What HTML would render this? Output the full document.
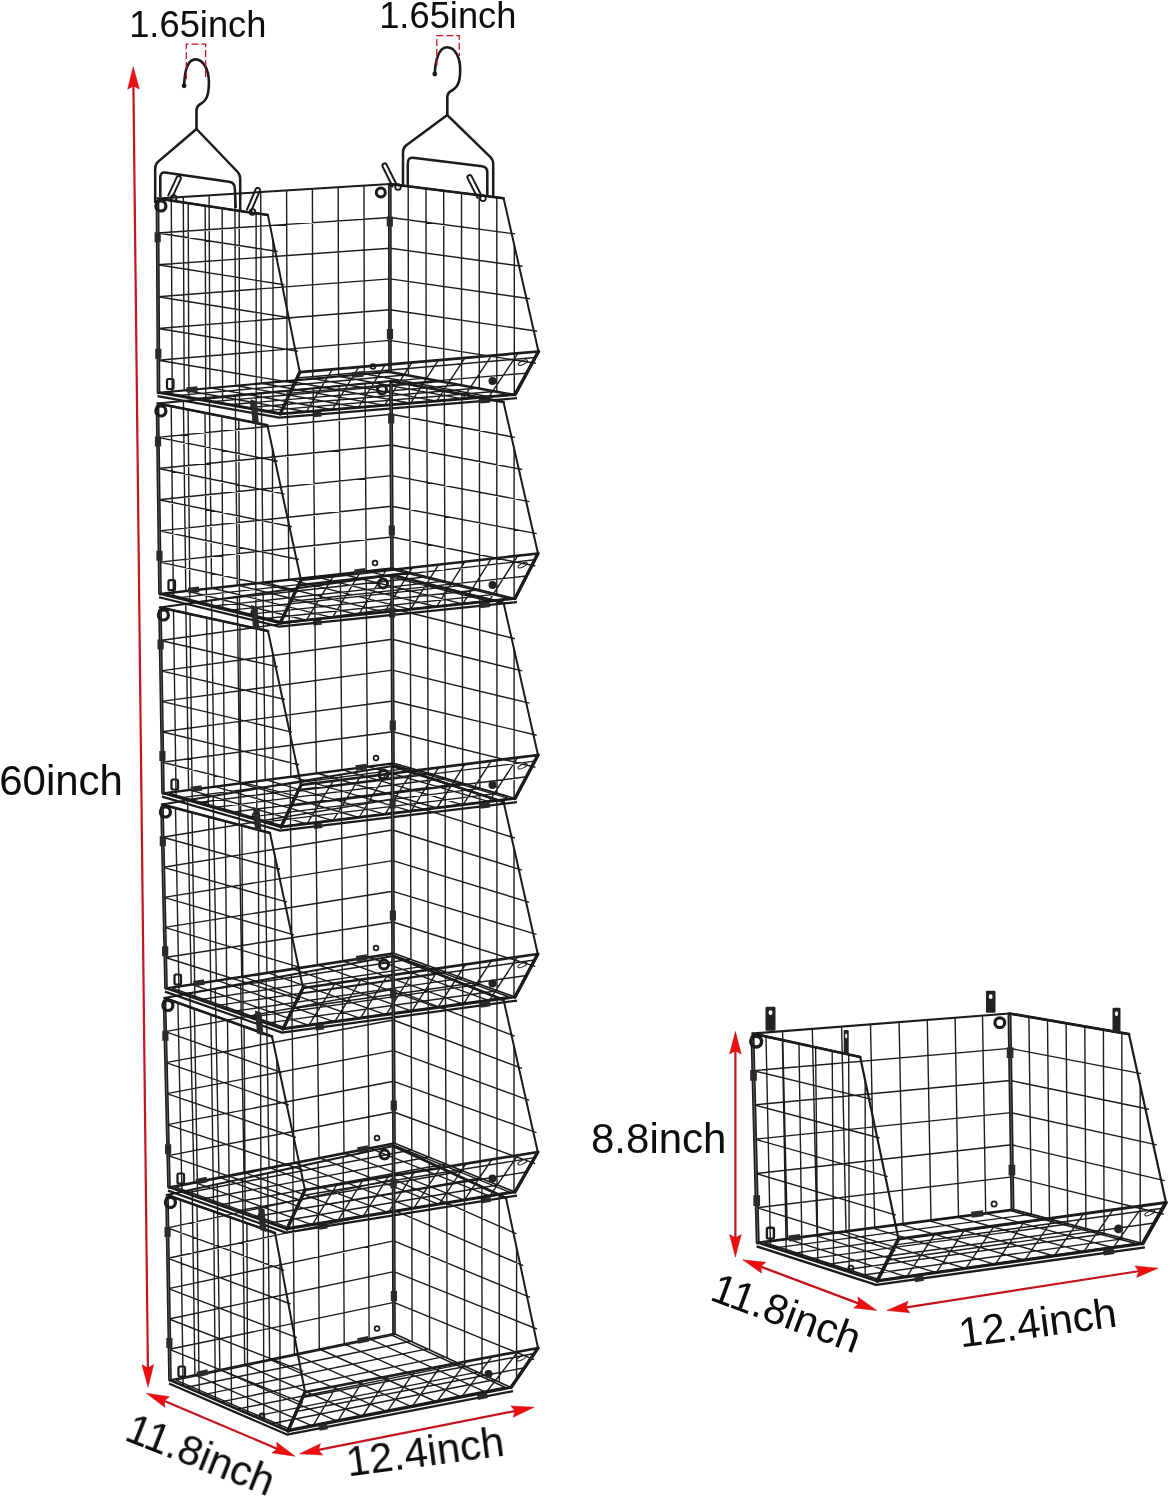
<!DOCTYPE html>
<html lang="en">
<head>
<meta charset="utf-8">
<title>Hanging wire basket dimensions</title>
<style>
html,body{margin:0;padding:0;background:#fff;}
body{width:1170px;height:1500px;overflow:hidden;font-family:'Liberation Sans',sans-serif;}
svg{display:block;}
</style>
</head>
<body>
<svg width="1170" height="1500" viewBox="0 0 1170 1500">
<defs><filter id="soft" filterUnits="userSpaceOnUse" x="0" y="0" width="1170" height="1500"><feGaussianBlur stdDeviation="0.38"/></filter></defs>
<rect width="1170" height="1500" fill="#fff"/>
<g filter="url(#soft)">
<g id="stack" stroke-linecap="butt">
<path d="M183.3 196.9L184.2 390.2M209.1 195.3L209.9 387.8M234.9 193.7L235.7 385.5M260.7 192.1L261.4 383.2M286.6 190.5L287.1 380.8M312.4 188.9L312.8 378.5M338.2 187.3L338.6 376.2M364 185.7L364.3 373.8M157.7 233L389.8 217.5M157.8 264.8L389.9 248.2M158 296.7L389.9 278.9M158.2 328.5L389.9 309.7M158.3 360.3L390 340.4M171.3 200.6L172.2 394.9M188.2 203.1L188.9 397.9M205.2 205.7L205.8 400.8M222.2 208.2L222.6 403.8M239.2 210.8L239.5 406.8M256.1 213.3L256.2 409.8M273 240.1L273 412.7M157.7 233L277.7 251.5M157.8 264.8L284.4 284.8M158 296.7L291.2 318M158.2 328.5L297.9 351.2M158.3 360.3L297.1 383.5M408.2 186.4L408.4 374.9M426 188.6L426.1 378.2M443.7 190.8L443.8 381.5M461.5 193L461.6 384.7M479.2 195.2L479.3 388M496.8 197.4L496.8 391.2M514.3 245.2L514.3 394.5M389.8 217.5L515.1 233.9M389.9 248.2L522.5 266.3M389.9 278.9L529.9 298.8M389.9 309.7L537.2 331.2M390 340.4L535.8 363.3M184.2 390.2L306.3 411.8M209.9 387.8L332.4 409.7M235.7 385.5L358.5 407.5M261.4 383.2L384.6 405.4M287.1 380.8L410.6 403.2M312.8 378.5L436.7 401.1M338.6 376.2L462.8 398.9M364.3 373.8L488.9 396.8M175.9 395.6L407.9 374.8M193.3 398.6L425.7 378.1M210.7 401.7L443.6 381.4M228 404.8L461.4 384.7M245.4 407.9L479.3 388M262.8 410.9L497.1 391.3M306.3 411.8L332.3 369.3M332.4 409.7L358.8 367M358.5 407.5L385.3 364.7M384.6 405.4L411.9 362.4M410.6 403.2L438.4 360.1M436.7 401.1L464.9 357.9M462.8 398.9L491.4 355.6M488.9 396.8L517.9 353.3M297.1 378L535.2 357.5M290 393.1L526.8 373.1" stroke="#1c1c1c" stroke-width="1.4" fill="none"/>
<path d="M157.5 198.5L389.8 184.1M157.5 198.5L267.9 215.1L299.8 372.1M389.8 184.1L503.6 198.2L538.5 351.5" stroke="#1a1a1a" stroke-width="2" fill="none" stroke-linejoin="round"/>
<path d="M157.5 198.5L267.9 215.1M389.8 184.1L503.6 198.2" stroke="#1a1a1a" stroke-width="2.5" fill="none" stroke-linecap="round"/>
<path d="M157.5 201.5L158.5 392.5M389.8 186.1L390 371.5" stroke="#1a1a1a" stroke-width="3.7" fill="none" stroke-linecap="round"/>
<path d="M157.5 201.5L158.5 392.5M389.8 186.1L390 371.5" stroke="#777" stroke-width="0.7" fill="none"/>
<path d="M158.5 392.5L280.2 414L515 394.6" stroke="#1a1a1a" stroke-width="2.6" fill="none" stroke-linejoin="round"/>
<path d="M158.5 392.5L390 371.5L515 394.6" stroke="#1a1a1a" stroke-width="1.7" fill="none" stroke-linejoin="round"/>
<path d="M164.7 392.5L388.1 372.3L508.7 394.5L282.2 413.3Z" stroke="#1a1a1a" stroke-width="1.5" fill="none"/>
<path d="M157.5 396.1L279.2 417.6L517 398.2" stroke="#1a1a1a" stroke-width="2.2" fill="none" stroke-linejoin="round"/>
<path d="M280.2 414L299.8 372.1L538.5 351.5L515 394.6" stroke="#1a1a1a" stroke-width="2.7" fill="none" stroke-linejoin="round" stroke-linecap="round"/>
<path d="M280.2 414L299.8 372.1M515 394.6L538.5 351.5" stroke="#1a1a1a" stroke-width="3.3" fill="none" stroke-linecap="round"/>
<path d="M157.7 232.3L157.7 242.3M158.3 348.7L158.3 358.7M389.8 216.6L389.8 226.6M390 329L390 339" stroke="#2a2a2a" stroke-width="6.2" fill="none"/>
<circle cx="380.8" cy="192.6" r="4.5" stroke="#1a1a1a" stroke-width="3" fill="none"/>
<circle cx="160.9" cy="206" r="5" stroke="#1a1a1a" stroke-width="3.2" fill="none"/>
<circle cx="373" cy="366.5" r="2.4" stroke="#1a1a1a" stroke-width="1.7" fill="none"/>
<circle cx="253.4" cy="405.3" r="2.4" stroke="#1a1a1a" stroke-width="1.7" fill="none"/>
<rect x="167" y="379" width="6.5" height="10" rx="1.5" stroke="#1a1a1a" stroke-width="2.2" fill="none"/>
<circle cx="492.5" cy="381.1" r="4" fill="#222"/>
<path d="M186.6 390L197.5 389M352.6 374.9L363.5 373.9M313.1 414.5L321.5 413.8M480 400.7L489.9 399.9" stroke="#2b2b2b" stroke-width="5.6" fill="none"/>
<ellipse cx="522.9" cy="362.6" rx="5" ry="1.8" stroke="#1a1a1a" stroke-width="1" fill="none" transform="rotate(-25 522.9 362.6)"/>
<path d="M183.4 401L185.8 590.8M209.4 398.5L211.6 588M235.3 396L237.3 585.1M261.3 393.5L263.1 582.3M287.2 391L288.9 579.4M313.2 388.5L314.7 576.6M339.1 386L340.4 573.7M365.1 383.5L366.2 570.9M157.9 437.4L391.2 414.3M158.4 468.5L391.3 445M158.8 499.7L391.5 475.6M159.2 530.9L391.7 506.3M159.6 562.1L391.8 537M171.2 406.2L173.4 597M188.1 409.6L189.9 601M205 412.9L206.4 605M221.9 416.3L222.9 609M238.8 419.6L239.5 613.1M255.6 423L255.9 617.1M272.5 448.6L272.5 621.1M157.9 437.4L277.6 461.3M158.4 468.5L284.7 494.1M158.8 499.7L291.8 526.8M159.2 530.9L298.9 559.5M159.6 562.1L298 591.8M409.2 384.4L410.1 572.5M426.8 387.7L427.5 576.8M444.3 391L444.9 581.1M461.9 394.2L462.2 585.4M479.4 397.5L479.6 589.7M496.8 400.7L496.8 594M514.1 448.4L514.1 598.3M391.2 414.3L514.9 437.4M391.3 445L522.2 469.5M391.5 475.6L529.5 501.6M391.7 506.3L536.8 533.6M391.8 537L535.4 566M185.8 590.8L306.3 620.3M211.6 588L332.4 617.6M237.3 585.1L358.5 614.8M263.1 582.3L384.6 612.1M288.9 579.4L410.6 609.4M314.7 576.6L436.7 606.7M340.4 573.7L462.8 603.9M366.2 570.9L488.9 601.2M177.2 597.9L409.6 572.4M194.3 602.1L427.1 576.7M211.5 606.3L444.7 581.1M228.7 610.4L462.3 585.4M245.9 614.6L479.9 589.8M263 618.8L497.4 594.1M306.3 620.3L333.3 576.4M332.4 617.6L359.6 573.4M358.5 614.8L385.9 570.5M384.6 612.1L412.3 567.6M410.6 609.4L438.6 564.6M436.7 606.7L464.9 561.7M462.8 603.9L491.3 558.7M488.9 601.2L517.6 555.8M298.1 586L534.8 559.8M290.6 601.5L526.5 576" stroke="#1c1c1c" stroke-width="1.4" fill="none"/>
<path d="M157.5 403.5L391 381M157.5 403.5L267.4 425.3L301 580M391 381L503.5 402L538 553.5" stroke="#1a1a1a" stroke-width="2" fill="none" stroke-linejoin="round"/>
<path d="M157.5 403.5L267.4 425.3M391 381L503.5 402" stroke="#1a1a1a" stroke-width="2.5" fill="none" stroke-linecap="round"/>
<path d="M157.5 406.5L160 593.7M391 383L392 568" stroke="#1a1a1a" stroke-width="3.7" fill="none" stroke-linecap="round"/>
<path d="M157.5 406.5L160 593.7M391 383L392 568" stroke="#777" stroke-width="0.7" fill="none"/>
<path d="M160 593.7L280.2 623L515 598.5" stroke="#1a1a1a" stroke-width="2.6" fill="none" stroke-linejoin="round"/>
<path d="M160 593.7L392 568L515 598.5" stroke="#1a1a1a" stroke-width="1.7" fill="none" stroke-linejoin="round"/>
<path d="M166.2 593.8L390.1 569L508.8 598.4L282.2 622Z" stroke="#1a1a1a" stroke-width="1.5" fill="none"/>
<path d="M159 597.3L279.2 626.6L517 602.1" stroke="#1a1a1a" stroke-width="2.2" fill="none" stroke-linejoin="round"/>
<path d="M280.2 623L301 580L538 553.5L515 598.5" stroke="#1a1a1a" stroke-width="2.7" fill="none" stroke-linejoin="round" stroke-linecap="round"/>
<path d="M280.2 623L301 580M515 598.5L538 553.5" stroke="#1a1a1a" stroke-width="3.3" fill="none" stroke-linecap="round"/>
<path d="M158 436.5L158 446.5M159.5 550.7L159.5 560.7M391.2 413.4L391.2 423.4M391.8 525.6L391.8 535.6" stroke="#2a2a2a" stroke-width="6.2" fill="none"/>
<circle cx="382" cy="389.5" r="4.5" stroke="#1a1a1a" stroke-width="3" fill="none"/>
<circle cx="160.9" cy="411" r="5" stroke="#1a1a1a" stroke-width="3.2" fill="none"/>
<circle cx="375" cy="563" r="2.4" stroke="#1a1a1a" stroke-width="1.7" fill="none"/>
<circle cx="253.8" cy="612.6" r="2.4" stroke="#1a1a1a" stroke-width="1.7" fill="none"/>
<rect x="168.5" y="580.2" width="6.5" height="10" rx="1.5" stroke="#1a1a1a" stroke-width="2.2" fill="none"/>
<circle cx="492.5" cy="585" r="4" fill="#222"/>
<path d="M188.2 590.6L199.1 589.4M354.5 572.2L365.5 570.9M313.1 622.8L321.5 621.9M480 605.4L489.9 604.3" stroke="#2b2b2b" stroke-width="5.6" fill="none"/>
<path d="M250.4 399.3L256.9 401.3L258.9 424.3L252.4 422.3Z" fill="#2a2a2a"/>
<ellipse cx="522.6" cy="565.1" rx="5" ry="1.8" stroke="#1a1a1a" stroke-width="1" fill="none" transform="rotate(-25 522.6 565.1)"/>
<path d="M185.8 603.9L188.6 789.7M211.6 600.3L214.1 786.3M237.3 596.7L239.7 783M263.1 593.1L265.2 779.7M288.9 589.4L290.8 776.3M314.7 585.8L316.3 773M340.4 582.2L341.9 769.7M366.2 578.6L367.4 766.3M160.5 640.5L392.2 608.5M161 670.9L392.3 639.3M161.5 701.4L392.5 670.1M162 731.8L392.7 701M162.5 762.2L392.8 731.8M173.5 610.4L176.1 796.8M190 614L192.2 801.4M206.7 617.7L208.4 806.1M223.3 621.3L224.5 810.7M239.9 624.9L240.7 815.4M256.4 628.5L256.8 820M273 654.2L273 824.7M160.5 640.5L278 666.9M161 670.9L285 699.5M161.5 701.4L292 732.1M162 731.8L299 764.7M162.5 762.2L298.2 796.6M410.1 579.5L410.9 768.2M427.5 583.9L428.2 773.2M444.9 588.3L445.4 778.3M462.3 592.6L462.7 783.3M479.7 597L479.9 788.3M496.9 601.3L497 793.3M514.1 649.4L514.1 798.2M392.2 608.5L514.9 638.7M392.3 639.3L522.2 670.9M392.5 670.1L529.5 703.1M392.7 701L536.7 735.2M392.8 731.8L535.4 767.3M188.6 789.7L307 823.8M214.1 786.3L333 820.7M239.7 783L359 817.5M265.2 779.7L385 814.3M290.8 776.3L411 811.2M316.3 773L437 808M341.9 769.7L463 804.8M367.4 766.3L489 801.7M179.9 797.9L410.4 768.1M196.7 802.7L427.9 773.1M213.6 807.6L445.3 778.2M230.4 812.4L462.7 783.3M247.3 817.3L480.1 788.4M264.1 822.1L497.6 793.4M307 823.8L333.3 780.9M333 820.7L359.6 777.6M359 817.5L385.9 774.2M385 814.3L412.3 770.9M411 811.2L438.6 767.6M437 808L464.9 764.2M463 804.8L491.3 760.9M489 801.7L517.6 757.6M298.2 790.9L534.8 761.1M291 806L526.5 776.8" stroke="#1c1c1c" stroke-width="1.4" fill="none"/>
<path d="M160 607.5L392 575M160 607.5L268 631L301 785M392 575L503.6 603L538 755" stroke="#1a1a1a" stroke-width="2" fill="none" stroke-linejoin="round"/>
<path d="M160 607.5L268 631M392 575L503.6 603" stroke="#1a1a1a" stroke-width="2.5" fill="none" stroke-linecap="round"/>
<path d="M160 610.5L163 793M392 577L393 763" stroke="#1a1a1a" stroke-width="3.7" fill="none" stroke-linecap="round"/>
<path d="M160 610.5L163 793M392 577L393 763" stroke="#777" stroke-width="0.7" fill="none"/>
<path d="M163 793L281 827L515 798.5" stroke="#1a1a1a" stroke-width="2.6" fill="none" stroke-linejoin="round"/>
<path d="M163 793L393 763L515 798.5" stroke="#1a1a1a" stroke-width="1.7" fill="none" stroke-linejoin="round"/>
<path d="M169.1 793.1L391.1 764.1L508.8 798.4L283 825.9Z" stroke="#1a1a1a" stroke-width="1.5" fill="none"/>
<path d="M162 796.6L280 830.6L517 802.1" stroke="#1a1a1a" stroke-width="2.2" fill="none" stroke-linejoin="round"/>
<path d="M281 827L301 785L538 755L515 798.5" stroke="#1a1a1a" stroke-width="2.7" fill="none" stroke-linejoin="round" stroke-linecap="round"/>
<path d="M281 827L301 785M515 798.5L538 755" stroke="#1a1a1a" stroke-width="3.3" fill="none" stroke-linecap="round"/>
<path d="M160.6 639.6L160.6 649.6M162.4 750.9L162.4 760.9M392.2 607.6L392.2 617.6M392.8 720.4L392.8 730.4" stroke="#2a2a2a" stroke-width="6.2" fill="none"/>
<circle cx="383" cy="583.5" r="4.5" stroke="#1a1a1a" stroke-width="3" fill="none"/>
<circle cx="163.4" cy="615" r="5" stroke="#1a1a1a" stroke-width="3.2" fill="none"/>
<circle cx="376" cy="758" r="2.4" stroke="#1a1a1a" stroke-width="1.7" fill="none"/>
<circle cx="255" cy="815.5" r="2.4" stroke="#1a1a1a" stroke-width="1.7" fill="none"/>
<rect x="171.5" y="779.5" width="6.5" height="10" rx="1.5" stroke="#1a1a1a" stroke-width="2.2" fill="none"/>
<circle cx="492.5" cy="785" r="4" fill="#222"/>
<path d="M190.9 789.4L201.8 787.9M355.8 767.9L366.7 766.4M313.8 826.2L322.1 825.2M480.1 806L490 804.7" stroke="#2b2b2b" stroke-width="5.6" fill="none"/>
<path d="M251 605L257.5 607L259.5 630L253 628Z" fill="#2a2a2a"/>
<ellipse cx="522.6" cy="766.2" rx="5" ry="1.8" stroke="#1a1a1a" stroke-width="1" fill="none" transform="rotate(-25 522.6 766.2)"/>
<path d="M187.6 800.2L191.2 984.1M213.2 795.9L216.4 980.2M238.8 791.7L241.7 976.3M264.4 787.4L266.9 972.4M290.1 783.1L292.1 968.6M315.7 778.8L317.3 964.7M341.3 774.6L342.6 960.8M366.9 770.3L367.8 956.9M162.7 837.2L392.6 799.3M163.4 867.3L392.7 830M164 897.4L392.8 860.6M164.7 927.4L392.8 891.3M165.3 957.5L392.9 922M175.5 808.1L179 992.6M192 812.4L194.9 998.1M208.7 816.8L210.9 1003.7M225.3 821.2L226.9 1009.4M241.9 825.6L243 1015M258.4 830L258.9 1020.5M275 856.3L275 1026.2M162.7 837.2L280 869.3M163.4 867.3L287 902.1M164 897.4L293.9 934.9M164.7 927.4L300.9 967.7M165.3 957.5L300.1 999.5M410.5 771.8L410.9 959.5M427.8 777.4L428.2 965.7M445.2 783.1L445.4 971.9M462.5 788.7L462.7 978.1M479.8 794.3L479.9 984.4M496.9 799.8L497 990.5M514 848.4L514 996.7M392.6 799.3L514.8 838M392.7 830L522 870.1M392.8 860.6L529.3 902.3M392.8 891.3L536.5 934.4M392.9 922L535.2 966.3M191.2 984.1L308.8 1025.4M216.4 980.2L334.6 1021.9M241.7 976.3L360.3 1018.3M266.9 972.4L386.1 1014.8M292.1 968.6L411.9 1011.2M317.3 964.7L437.7 1007.7M342.6 960.8L463.4 1004.1M367.8 956.9L489.2 1000.6M182.7 993.9L410.4 959.3M199.4 999.7L427.9 965.6M216.1 1005.6L445.3 971.9M232.9 1011.4L462.7 978.1M249.6 1017.3L480.1 984.4M266.3 1023.1L497.6 990.7M308.8 1025.4L335 983.4M334.6 1021.9L361 979.6M360.3 1018.3L387.1 975.8M386.1 1014.8L413.2 972M411.9 1011.2L439.3 968.3M437.7 1007.7L465.4 964.5M463.4 1004.1L491.5 960.7M489.2 1000.6L517.6 956.9M300.2 993.7L534.6 960M293 1008.5L526.4 975.5" stroke="#1c1c1c" stroke-width="1.4" fill="none"/>
<path d="M162 804.5L392.5 766M162 804.5L270 833L303 988M392.5 766L503.6 802L537.8 954" stroke="#1a1a1a" stroke-width="2" fill="none" stroke-linejoin="round"/>
<path d="M162 804.5L270 833M392.5 766L503.6 802" stroke="#1a1a1a" stroke-width="2.5" fill="none" stroke-linecap="round"/>
<path d="M162 807.5L166 988M392.5 768L393 953" stroke="#1a1a1a" stroke-width="3.7" fill="none" stroke-linecap="round"/>
<path d="M162 807.5L166 988M392.5 768L393 953" stroke="#777" stroke-width="0.7" fill="none"/>
<path d="M166 988L283 1029L515 997" stroke="#1a1a1a" stroke-width="2.6" fill="none" stroke-linejoin="round"/>
<path d="M166 988L393 953L515 997" stroke="#1a1a1a" stroke-width="1.7" fill="none" stroke-linejoin="round"/>
<path d="M172.1 988.1L391.1 954.4L508.8 996.8L285 1027.7Z" stroke="#1a1a1a" stroke-width="1.5" fill="none"/>
<path d="M165 991.6L282 1032.6L517 1000.6" stroke="#1a1a1a" stroke-width="2.2" fill="none" stroke-linejoin="round"/>
<path d="M283 1029L303 988L537.8 954L515 997" stroke="#1a1a1a" stroke-width="2.7" fill="none" stroke-linejoin="round" stroke-linecap="round"/>
<path d="M283 1029L303 988M515 997L537.8 954" stroke="#1a1a1a" stroke-width="3.3" fill="none" stroke-linecap="round"/>
<path d="M162.8 836.2L162.8 846.2M165.2 946.3L165.2 956.3M392.6 798.4L392.6 808.4M392.9 910.6L392.9 920.6" stroke="#2a2a2a" stroke-width="6.2" fill="none"/>
<circle cx="383.5" cy="774.5" r="4.5" stroke="#1a1a1a" stroke-width="3" fill="none"/>
<circle cx="165.4" cy="812" r="5" stroke="#1a1a1a" stroke-width="3.2" fill="none"/>
<circle cx="376" cy="948" r="2.4" stroke="#1a1a1a" stroke-width="1.7" fill="none"/>
<circle cx="257.3" cy="1016" r="2.4" stroke="#1a1a1a" stroke-width="1.7" fill="none"/>
<rect x="174.5" y="974.5" width="6.5" height="10" rx="1.5" stroke="#1a1a1a" stroke-width="2.2" fill="none"/>
<circle cx="492.5" cy="983.5" r="4" fill="#222"/>
<path d="M193.5 983.8L204.4 982.1M356.2 958.7L367.1 957M315.5 1027.7L323.8 1026.6M480.4 1005L490.3 1003.6" stroke="#2b2b2b" stroke-width="5.6" fill="none"/>
<path d="M253 807L259.5 809L261.5 832L255 830Z" fill="#2a2a2a"/>
<ellipse cx="522.4" cy="965" rx="5" ry="1.8" stroke="#1a1a1a" stroke-width="1" fill="none" transform="rotate(-25 522.4 965)"/>
<path d="M189.9 993.3L194 1182.1M215.3 988.7L219 1177.2M240.7 984L244 1172.3M266.1 979.3L269 1167.4M291.4 974.7L294 1162.6M316.8 970L319 1157.7M342.2 965.3L344 1152.8M367.6 960.7L369 1147.9M165.3 1031.6L393.2 989.3M166 1062.6L393.3 1020M166.8 1093.6L393.5 1050.6M167.5 1124.6L393.7 1081.3M168.3 1155.6L393.8 1112M177.9 1002.8L181.9 1191.6M194.4 1008.7L197.6 1197.2M210.9 1014.6L213.5 1202.8M227.5 1020.6L229.4 1208.5M244.1 1026.5L245.2 1214.1M260.5 1032.4L261 1219.7M276.9 1059.5L276.9 1225.4M165.3 1031.6L281.9 1072.6M166 1062.6L288.9 1105.1M166.8 1093.6L295.9 1137.5M167.5 1124.6L302.9 1170M168.3 1155.6L302.6 1201M410.9 963.1L411.8 1150.2M428.2 970L428.9 1157.1M445.4 976.9L446 1164M462.7 983.7L463 1171M479.9 990.6L480.1 1177.9M497 997.4L497 1184.7M514 1046.2L514 1191.6M393.2 989.3L514.7 1036.2M393.3 1020L522 1068.3M393.5 1050.6L529.2 1100.4M393.7 1081.3L536.5 1132.6M393.8 1112L535.1 1163.7M194 1182.1L312.3 1224.9M219 1177.2L337.7 1220.8M244 1172.3L363 1216.7M269 1167.4L388.3 1212.6M294 1162.6L413.7 1208.4M319 1157.7L439 1204.3M344 1152.8L464.3 1200.2M369 1147.9L489.7 1196.1M185.9 1193L411.3 1150M202.7 1199L428.6 1157M219.6 1205L445.9 1164M236.4 1211L463.1 1171M253.3 1217L480.4 1178M270.1 1223L497.7 1185M312.3 1224.9L336.7 1184.8M337.7 1220.8L362.6 1180.6M363 1216.7L388.4 1176.4M388.3 1212.6L414.3 1172.2M413.7 1208.4L440.2 1167.9M439 1204.3L466 1163.7M464.3 1200.2L491.9 1159.5M489.7 1196.1L517.8 1155.3M302.5 1195.5L534.6 1157.6M296 1209.5L526.4 1172" stroke="#1c1c1c" stroke-width="1.4" fill="none"/>
<path d="M164.5 998L393 956M164.5 998L272 1036.5L305 1190M393 956L503.6 1000L537.8 1152" stroke="#1a1a1a" stroke-width="2" fill="none" stroke-linejoin="round"/>
<path d="M164.5 998L272 1036.5M393 956L503.6 1000" stroke="#1a1a1a" stroke-width="2.5" fill="none" stroke-linecap="round"/>
<path d="M164.5 1001L169 1187M393 958L394 1143" stroke="#1a1a1a" stroke-width="3.7" fill="none" stroke-linecap="round"/>
<path d="M164.5 1001L169 1187M393 958L394 1143" stroke="#777" stroke-width="0.7" fill="none"/>
<path d="M169 1187L287 1229L515 1192" stroke="#1a1a1a" stroke-width="2.6" fill="none" stroke-linejoin="round"/>
<path d="M169 1187L394 1143L515 1192" stroke="#1a1a1a" stroke-width="1.7" fill="none" stroke-linejoin="round"/>
<path d="M175 1187L392.2 1144.6L508.9 1191.9L288.9 1227.6Z" stroke="#1a1a1a" stroke-width="1.5" fill="none"/>
<path d="M168 1190.6L286 1232.6L517 1195.6" stroke="#1a1a1a" stroke-width="2.2" fill="none" stroke-linejoin="round"/>
<path d="M287 1229L305 1190L537.8 1152L515 1192" stroke="#1a1a1a" stroke-width="2.7" fill="none" stroke-linejoin="round" stroke-linecap="round"/>
<path d="M287 1229L305 1190M515 1192L537.8 1152" stroke="#1a1a1a" stroke-width="3.3" fill="none" stroke-linecap="round"/>
<path d="M165.4 1030.8L165.4 1040.8M168.1 1144.2L168.1 1154.2M393.2 988.4L393.2 998.4M393.8 1100.6L393.8 1110.6" stroke="#2a2a2a" stroke-width="6.2" fill="none"/>
<circle cx="384" cy="964.5" r="4.5" stroke="#1a1a1a" stroke-width="3" fill="none"/>
<circle cx="167.9" cy="1005.5" r="5" stroke="#1a1a1a" stroke-width="3.2" fill="none"/>
<circle cx="377" cy="1138" r="2.4" stroke="#1a1a1a" stroke-width="1.7" fill="none"/>
<circle cx="261" cy="1215.8" r="2.4" stroke="#1a1a1a" stroke-width="1.7" fill="none"/>
<rect x="177.5" y="1173.5" width="6.5" height="10" rx="1.5" stroke="#1a1a1a" stroke-width="2.2" fill="none"/>
<circle cx="492.5" cy="1178.5" r="4" fill="#222"/>
<path d="M196.2 1181.7L207 1179.6M357.6 1150.1L368.3 1148M318.9 1227L327.2 1225.7M480.9 1200.7L490.8 1199.1" stroke="#2b2b2b" stroke-width="5.6" fill="none"/>
<path d="M255 1010.5L261.5 1012.5L263.5 1035.5L257 1033.5Z" fill="#2a2a2a"/>
<ellipse cx="522.4" cy="1162.2" rx="5" ry="1.8" stroke="#1a1a1a" stroke-width="1" fill="none" transform="rotate(-25 522.4 1162.2)"/>
<path d="M192.2 1189.6L194.9 1374.8M217.3 1184.1L219.8 1369.7M242.5 1178.7L244.7 1364.5M267.7 1173.2L269.6 1359.3M292.8 1167.8L294.4 1354.2M318 1162.3L319.3 1349M343.2 1156.9L344.2 1343.8M368.3 1151.4L369.1 1338.7M167.5 1227.9L393.6 1179.4M168 1258.3L393.7 1210.1M168.5 1288.6L393.8 1240.9M169 1319L393.8 1271.6M169.5 1349.3L393.9 1302.4M180.5 1199.8L183.1 1385.7M197 1205.6L199.2 1392.6M213.7 1211.4L215.4 1399.6M230.3 1217.3L231.5 1406.6M246.9 1223.1L247.7 1413.6M263.4 1228.9L263.8 1420.5M280 1259.3L280 1427.5M167.5 1227.9L284.2 1270.4M168 1258.3L290.6 1304M168.5 1288.6L296.9 1337.7M169 1319L303.3 1371.4M169.5 1349.3L302.9 1403.2M411.7 1154.4L412.1 1341.9M429.3 1162.5L429.6 1349.9M446.8 1170.6L447.1 1358M464.4 1178.8L464.6 1366.1M481.9 1186.9L482 1374.1M499.2 1194.9L499.3 1382.1M516.6 1247.6L516.6 1379.3M393.6 1179.4L516.5 1233.9M393.7 1210.1L523.3 1265.6M393.8 1240.9L530.1 1297.3M393.8 1271.6L536.9 1329M393.9 1302.4L534.2 1359.7M194.9 1374.8L312.8 1426.2M219.8 1369.7L337.6 1421.3M244.7 1364.5L362.3 1416.5M269.6 1359.3L387.1 1411.7M294.4 1354.2L411.9 1406.8M319.3 1349L436.7 1402M344.2 1343.8L461.4 1397.2M369.1 1338.7L486.2 1392.3M186.9 1387.3L410.7 1341.2M203.7 1394.6L427.4 1348.9M220.6 1401.9L444.1 1356.6M237.4 1409.1L460.9 1364.4M254.3 1416.4L477.6 1372.1M271.1 1423.7L494.3 1379.8M312.8 1426.2L336.7 1386M337.6 1421.3L362.6 1381.1M362.3 1416.5L388.5 1376.2M387.1 1411.7L414.4 1371.3M411.9 1406.8L440.3 1366.5M436.7 1402L466.2 1361.6M461.4 1397.2L492 1356.7M486.2 1392.3L517.9 1351.8M302.6 1397.5L534.2 1353.5M296.5 1411.5L524.5 1367.8" stroke="#1c1c1c" stroke-width="1.4" fill="none"/>
<path d="M167 1195L393.5 1146M167 1195L275 1233L305 1392M393.5 1146L506 1198L538 1348" stroke="#1a1a1a" stroke-width="2" fill="none" stroke-linejoin="round"/>
<path d="M167 1195L275 1233M393.5 1146L506 1198" stroke="#1a1a1a" stroke-width="2.5" fill="none" stroke-linecap="round"/>
<path d="M167 1198L170 1380M393.5 1148L394 1333.5" stroke="#1a1a1a" stroke-width="3.7" fill="none" stroke-linecap="round"/>
<path d="M167 1198L170 1380M393.5 1148L394 1333.5" stroke="#777" stroke-width="0.7" fill="none"/>
<path d="M170 1380L288 1431L511 1387.5" stroke="#1a1a1a" stroke-width="2.6" fill="none" stroke-linejoin="round"/>
<path d="M170 1380L394 1333.5L511 1387.5" stroke="#1a1a1a" stroke-width="1.7" fill="none" stroke-linejoin="round"/>
<path d="M176 1380.1L392.1 1335.2L505 1387.3L289.8 1429.3Z" stroke="#1a1a1a" stroke-width="1.5" fill="none"/>
<path d="M169 1383.6L287 1434.6L513 1391.1" stroke="#1a1a1a" stroke-width="2.2" fill="none" stroke-linejoin="round"/>
<path d="M288 1431L305 1392L538 1348L511 1387.5" stroke="#1a1a1a" stroke-width="2.7" fill="none" stroke-linejoin="round" stroke-linecap="round"/>
<path d="M288 1431L305 1392M511 1387.5L538 1348" stroke="#1a1a1a" stroke-width="3.3" fill="none" stroke-linecap="round"/>
<path d="M167.6 1227L167.6 1237M169.4 1338L169.4 1348M393.6 1178.5L393.6 1188.5M393.9 1291L393.9 1301" stroke="#2a2a2a" stroke-width="6.2" fill="none"/>
<circle cx="384.5" cy="1154.5" r="4.5" stroke="#1a1a1a" stroke-width="3" fill="none"/>
<circle cx="170.4" cy="1202.5" r="5" stroke="#1a1a1a" stroke-width="3.2" fill="none"/>
<circle cx="377" cy="1328.5" r="2.4" stroke="#1a1a1a" stroke-width="1.7" fill="none"/>
<circle cx="262" cy="1415.8" r="2.4" stroke="#1a1a1a" stroke-width="1.7" fill="none"/>
<rect x="178.5" y="1366.5" width="6.5" height="10" rx="1.5" stroke="#1a1a1a" stroke-width="2.2" fill="none"/>
<circle cx="488.5" cy="1374" r="4" fill="#222"/>
<path d="M197.1 1374.4L207.9 1372.1M357.7 1341L368.5 1338.8M319.1 1428.1L327.4 1426.5M477.5 1397.2L487.4 1395.3" stroke="#2b2b2b" stroke-width="5.6" fill="none"/>
<path d="M258 1207L264.5 1209L266.5 1232L260 1230Z" fill="#2a2a2a"/>
<ellipse cx="521.4" cy="1358.1" rx="5" ry="1.8" stroke="#1a1a1a" stroke-width="1" fill="none" transform="rotate(-25 521.4 1358.1)"/>
</g>
<g id="hangers">
<path d="M184.1 85.8C184.6 71.8 187.5 59.4 195.5 59.4C203.5 59.4 208.9 70.1 208.9 82.1C208.9 96.1 206.5 101 199 105Q196.5 107 196.5 111L196.5 129" stroke="#1a1a1a" stroke-width="2.6" fill="none" stroke-linecap="round" stroke-linejoin="round"/>
<circle cx="184.1" cy="85.8" r="2.4" fill="#1a1a1a"/>
<path d="M155.2 203L155.2 168.2Q155.2 164.2 158.2 161.6L196.5 129L237.2 171.5Q240.2 174.5 240.2 178.5L240.2 210" stroke="#1a1a1a" stroke-width="2.5" fill="none" stroke-linejoin="round"/>
<path d="M160.3 197L160.3 177.5Q160.3 172 165 172.6L229 181.8Q234.8 182.6 234.8 188.5L235.8 208" stroke="#1a1a1a" stroke-width="2.5" fill="none" stroke-linejoin="round"/>
<path d="M168.2 195.6L176.7 177.3A2.2 2.2 0 0 1 180.7 179.1L172.2 197.4" stroke="#1a1a1a" stroke-width="2" fill="none" stroke-linejoin="round" stroke-linecap="round"/>
<circle cx="173.7" cy="198" r="2.8" stroke="#1a1a1a" stroke-width="1.8" fill="none"/>
<path d="M247 209.6L255.8 189A2.2 2.2 0 0 1 259.8 190.8L251 211.4" stroke="#1a1a1a" stroke-width="2" fill="none" stroke-linejoin="round" stroke-linecap="round"/>
<circle cx="252.5" cy="212" r="2.8" stroke="#1a1a1a" stroke-width="1.8" fill="none"/>
<path d="M434.8 74C435.3 60 439 47.2 447 47.2C455 47.2 460.2 57.5 460.2 69.5C460.2 83.5 457.3 87.8 449.8 91.8Q447.3 93.8 447.3 97.8L447.3 115.1" stroke="#1a1a1a" stroke-width="2.6" fill="none" stroke-linecap="round" stroke-linejoin="round"/>
<circle cx="434.8" cy="74" r="2.4" fill="#1a1a1a"/>
<path d="M403 187L403 152.1Q403 148.1 406 145.5L447.3 115.1L490.2 156.8Q493.2 159.8 493.2 163.8L493.2 197" stroke="#1a1a1a" stroke-width="2.5" fill="none" stroke-linejoin="round"/>
<path d="M407.8 185.5L407.8 163.5Q407.8 157.1 413 157.7L482 166.3Q487.3 167.1 487.3 172.5L487.3 196" stroke="#1a1a1a" stroke-width="2.5" fill="none" stroke-linejoin="round"/>
<path d="M392.5 186.5L382.7 166.7A2.2 2.2 0 0 1 386.7 164.7L396.5 184.5" stroke="#1a1a1a" stroke-width="2" fill="none" stroke-linejoin="round" stroke-linecap="round"/>
<circle cx="398" cy="187" r="2.8" stroke="#1a1a1a" stroke-width="1.8" fill="none"/>
<path d="M477.5 197.8L467.7 178.4A2.2 2.2 0 0 1 471.7 176.4L481.5 195.8" stroke="#1a1a1a" stroke-width="2" fill="none" stroke-linejoin="round" stroke-linecap="round"/>
<circle cx="483" cy="198.3" r="2.8" stroke="#1a1a1a" stroke-width="1.8" fill="none"/>
</g>
<path d="M186.3 79L186.3 44.2L205.6 44.2L205.6 79" stroke="#c4161c" stroke-width="1.3" fill="none" stroke-dasharray="7 3"/>
<path d="M436.8 66L436.8 35.6L459.3 35.6L459.3 56" stroke="#c4161c" stroke-width="1.3" fill="none" stroke-dasharray="7 3"/>
<g id="single">
<path d="M782.6 1031.2L787.5 1238.5M812.3 1028.8L817 1234.7M841.6 1026.6L846 1231M870.5 1024.3L874.7 1227.2M899.1 1022.1L903 1223.6M927.3 1019.9L931 1220M955.1 1017.7L958.5 1216.4M982.5 1015.6L985.7 1212.9M753.4 1070.7L1010 1048.4M754.3 1104.9L1010.5 1080.5M755.1 1139.2L1011 1112.6M756 1173.5L1011.5 1144.8M756.8 1207.7L1012 1176.9M766 1036.4L770.5 1246.5M782.4 1040L786.2 1251.6M799 1043.7L802 1256.7M815.6 1047.3L817.8 1261.8M832.2 1050.9L833.6 1266.9M848.7 1054.5L849.2 1272M865.2 1080.5L865.2 1277.1M753.4 1070.7L871.6 1099.4M754.3 1104.9L879.7 1138M755.1 1139.2L887.8 1176.6M756 1173.5L895.9 1215.1M756.8 1207.7L895.5 1250.8M1028.9 1016.9L1031.4 1214.3M1047.5 1020.1L1049.5 1219.1M1066.1 1023.3L1067.7 1223.9M1084.8 1026.5L1085.9 1228.6M1103.4 1029.8L1104.1 1233.4M1121.8 1033L1122 1238.1M1140.2 1085.3L1140.2 1242.9M1010 1048.4L1141.2 1073.6M1010.5 1080.5L1149 1109.2M1011 1112.6L1156.8 1144.9M1011.5 1144.8L1164.7 1180.6M1012 1176.9L1163.6 1214.2M786 1238.7L906.7 1276.8M814.3 1235.1L936.2 1272.7M842.6 1231.4L965.7 1268.5M870.9 1227.7L995.2 1264.3M899.3 1224.1L1024.7 1260.2M927.6 1220.4L1054.2 1256M955.9 1216.7L1083.7 1251.8M984.2 1213.1L1113.2 1247.7M774.8 1247.9L1031.1 1214.3M791.8 1253.4L1049.7 1219.1M808.9 1258.9L1068.3 1224M826 1264.5L1086.9 1228.9M843.1 1270L1105.5 1233.8M860.1 1275.5L1124.1 1238.6M906.7 1276.8L934.9 1234M936.2 1272.7L964.6 1230M965.7 1268.5L994.4 1225.9M995.2 1264.3L1024.1 1221.9M1024.7 1260.2L1053.8 1217.8M1054.2 1256L1083.5 1213.8M1083.7 1251.8L1113.2 1209.7M1113.2 1247.7L1143 1205.6M895.5 1244.9L1162.7 1208.2M887.9 1260L1154.3 1223" stroke="#1c1c1c" stroke-width="1.4" fill="none"/>
<path d="M752.5 1033.5L1009.5 1013.5M752.5 1033.5L860.2 1057L898.5 1239M1009.5 1013.5L1129 1034.2L1166 1202.5" stroke="#1a1a1a" stroke-width="2.2" fill="none" stroke-linejoin="round"/>
<path d="M752.5 1033.5L860.2 1057M1009.5 1013.5L1129 1034.2" stroke="#1a1a1a" stroke-width="2.7" fill="none" stroke-linecap="round"/>
<path d="M752.5 1036.7L757.7 1242.4M1009.5 1015.7L1012.5 1209.4" stroke="#1a1a1a" stroke-width="4" fill="none" stroke-linecap="round"/>
<path d="M752.5 1036.7L757.7 1242.4M1009.5 1015.7L1012.5 1209.4" stroke="#777" stroke-width="0.8" fill="none"/>
<path d="M757.7 1242.4L877.2 1281L1142.7 1243.5" stroke="#1a1a1a" stroke-width="2.8" fill="none" stroke-linejoin="round"/>
<path d="M757.7 1242.4L1012.5 1209.4L1142.7 1243.5" stroke="#1a1a1a" stroke-width="1.8" fill="none" stroke-linejoin="round"/>
<path d="M764.3 1242.5L1010.2 1210.6L1135.9 1243.5L879.7 1279.7Z" stroke="#1a1a1a" stroke-width="1.6" fill="none"/>
<path d="M756.6 1246.3L876.1 1284.9L1144.9 1247.4" stroke="#1a1a1a" stroke-width="2.4" fill="none" stroke-linejoin="round"/>
<path d="M877.2 1281L898.5 1239L1166 1202.5L1142.7 1243.5" stroke="#1a1a1a" stroke-width="2.9" fill="none" stroke-linejoin="round" stroke-linecap="round"/>
<path d="M877.2 1281L898.5 1239M1142.7 1243.5L1166 1202.5" stroke="#1a1a1a" stroke-width="3.6" fill="none" stroke-linecap="round"/>
<path d="M753.5 1069.9L753.5 1080.7M756.7 1195.2L756.7 1206M1010.1 1047.3L1010.1 1058.1M1011.9 1164.8L1011.9 1175.6" stroke="#2a2a2a" stroke-width="6.7" fill="none"/>
<circle cx="999.8" cy="1022.7" r="4.9" stroke="#1a1a1a" stroke-width="3.2" fill="none"/>
<circle cx="756.2" cy="1041.6" r="5.4" stroke="#1a1a1a" stroke-width="3.5" fill="none"/>
<circle cx="994.1" cy="1204" r="2.6" stroke="#1a1a1a" stroke-width="1.8" fill="none"/>
<circle cx="850.9" cy="1268.2" r="2.6" stroke="#1a1a1a" stroke-width="1.8" fill="none"/>
<rect x="766.9" y="1227.8" width="7" height="10.8" rx="1.5" stroke="#1a1a1a" stroke-width="2.4" fill="none"/>
<circle cx="1118.4" cy="1228.9" r="4.3" fill="#222"/>
<path d="M788.8 1238.4L800.5 1236.9M971.4 1214.7L983.2 1213.2M914.7 1279.2L923.6 1277.9M1103.4 1252.5L1114.1 1251" stroke="#2b2b2b" stroke-width="6" fill="none"/>
<ellipse cx="1149.8" cy="1212.9" rx="5.4" ry="1.9" stroke="#1a1a1a" stroke-width="1" fill="none" transform="rotate(-25 1149.8 1212.9)"/>
<rect x="765.5" y="1006.7" width="10" height="24" rx="1.2" fill="#242424"/>
<ellipse cx="770.5" cy="1012.7" rx="2" ry="2.4" fill="#fff"/>
<rect x="843.7" y="1030" width="5" height="25" rx="1.2" fill="#242424"/>
<ellipse cx="846.2" cy="1036" rx="1" ry="2.4" fill="#fff"/>
<rect x="986" y="990.7" width="9.5" height="22" rx="1.2" fill="#242424"/>
<ellipse cx="990.7" cy="996.7" rx="1.9" ry="2.4" fill="#fff"/>
<rect x="1112.5" y="1007.7" width="8" height="24" rx="1.2" fill="#242424"/>
<ellipse cx="1116.5" cy="1013.7" rx="1.6" ry="2.4" fill="#fff"/>
</g>
<g id="dims">
<path d="M133.4 85L147.9 1368.9" stroke="#c4121f" stroke-width="2.2" fill="none"/>
<path d="M133.2 66.7L127.7 89.3L133.4 86L139.3 89.1Z" fill="#f01010" stroke="#b01018" stroke-width="0.5"/>
<path d="M148.1 1387.2L142 1364.8L147.9 1367.9L153.6 1364.6Z" fill="#f01010" stroke="#b01018" stroke-width="0.5"/>
<path d="M163.3 1400.4L278.2 1449.2" stroke="#c4121f" stroke-width="2.2" fill="none"/>
<path d="M146.4 1393.3L164.9 1407.4L164.2 1400.8L169.4 1396.7Z" fill="#f01010" stroke="#b01018" stroke-width="0.5"/>
<path d="M295.1 1456.3L272.1 1452.9L277.3 1448.8L276.6 1442.2Z" fill="#f01010" stroke="#b01018" stroke-width="0.5"/>
<path d="M317.4 1450.2L516.2 1410.8" stroke="#c4121f" stroke-width="2.2" fill="none"/>
<path d="M299.5 1453.8L322.7 1455.1L318.4 1450L320.4 1443.7Z" fill="#f01010" stroke="#b01018" stroke-width="0.5"/>
<path d="M534.1 1407.2L513.2 1417.3L515.2 1411L510.9 1405.9Z" fill="#f01010" stroke="#b01018" stroke-width="0.5"/>
<path d="M735.4 1049.8L735.4 1238.8" stroke="#c4121f" stroke-width="2.2" fill="none"/>
<path d="M735.4 1031.5L729.6 1054L735.4 1050.8L741.2 1054Z" fill="#f01010" stroke="#b01018" stroke-width="0.5"/>
<path d="M735.4 1257.1L729.6 1234.6L735.4 1237.8L741.2 1234.6Z" fill="#f01010" stroke="#b01018" stroke-width="0.5"/>
<path d="M759.8 1266.3L859.7 1303.9" stroke="#c4121f" stroke-width="2.2" fill="none"/>
<path d="M742.7 1259.8L761.7 1273.2L760.8 1266.6L765.8 1262.3Z" fill="#f01010" stroke="#b01018" stroke-width="0.5"/>
<path d="M876.8 1310.4L853.7 1307.9L858.7 1303.6L857.8 1297Z" fill="#f01010" stroke="#b01018" stroke-width="0.5"/>
<path d="M904.9 1307.6L1139.9 1271" stroke="#c4121f" stroke-width="2.2" fill="none"/>
<path d="M886.8 1310.4L909.9 1312.7L905.9 1307.4L908.1 1301.2Z" fill="#f01010" stroke="#b01018" stroke-width="0.5"/>
<path d="M1158 1268.2L1136.7 1277.4L1138.9 1271.2L1134.9 1265.9Z" fill="#f01010" stroke="#b01018" stroke-width="0.5"/>
</g>
<g id="labels">
<text x="129.2" y="36.8" font-size="36.3" text-anchor="start" font-family="'Liberation Sans', sans-serif" fill="#0a0a0a">1.65inch</text>
<text x="379.2" y="28.3" font-size="36.3" text-anchor="start" font-family="'Liberation Sans', sans-serif" fill="#0a0a0a">1.65inch</text>
<text x="-0.8" y="795.4" font-size="42" text-anchor="start" font-family="'Liberation Sans', sans-serif" fill="#0a0a0a">60inch</text>
<text x="591" y="1152.6" font-size="42" text-anchor="start" font-family="'Liberation Sans', sans-serif" fill="#0a0a0a">8.8inch</text>
<text x="195.3" y="1468.3" font-size="42" text-anchor="middle" font-family="'Liberation Sans', sans-serif" fill="#0a0a0a" transform="rotate(21.5 195.3 1468.3)">11.8inch</text>
<text x="427" y="1466" font-size="42" text-anchor="middle" font-family="'Liberation Sans', sans-serif" fill="#0a0a0a" transform="rotate(-7.6 427 1466)">12.4inch</text>
<text x="781.5" y="1326.5" font-size="42" text-anchor="middle" font-family="'Liberation Sans', sans-serif" fill="#0a0a0a" transform="rotate(20.3 781.5 1326.5)">11.8inch</text>
<text x="1039.5" y="1337" font-size="42" text-anchor="middle" font-family="'Liberation Sans', sans-serif" fill="#0a0a0a" transform="rotate(-7.6 1039.5 1337)">12.4inch</text>
</g>
</g>
</svg>
</body>
</html>
